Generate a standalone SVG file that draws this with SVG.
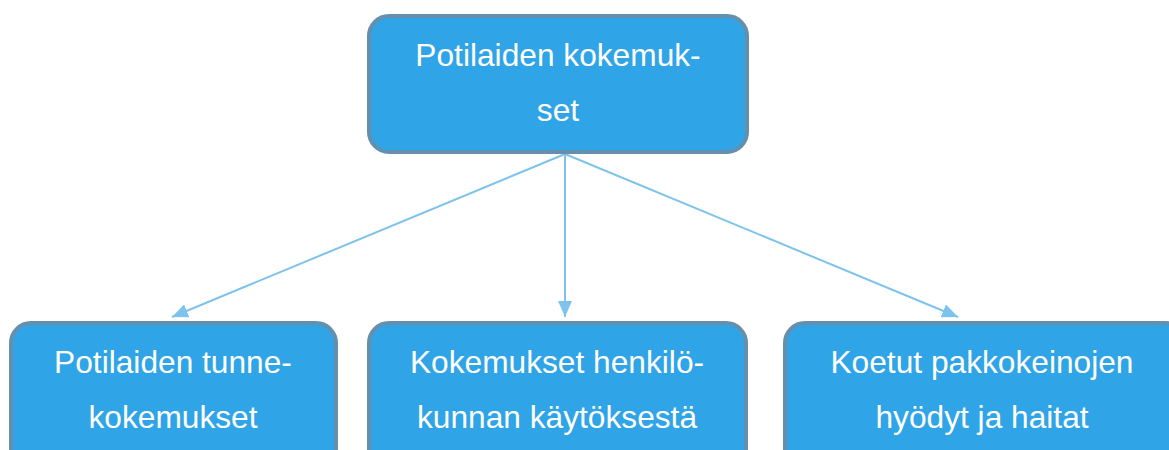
<svg xmlns="http://www.w3.org/2000/svg" width="1169" height="450" viewBox="0 0 1169 450">
<style>
.box{fill:#2fa4e6;stroke:#6590ad;stroke-width:4}
.t{font-family:"Liberation Sans",Arial,sans-serif;font-size:31.7px;fill:#ffffff;text-anchor:middle}
.c{stroke:#7ec3eb;stroke-width:2;fill:none}
</style>
<defs>
<marker id="ah" viewBox="0 0 16 14" refX="16" refY="7" markerWidth="16" markerHeight="14" markerUnits="userSpaceOnUse" orient="auto">
<path d="M0,0 L16,7 L0,14 z" fill="#7ec3eb"/>
</marker>
</defs>
<g id="connectors">
<line class="c" x1="565" y1="154" x2="172" y2="317" marker-end="url(#ah)"/>
<line class="c" x1="565" y1="154" x2="565" y2="317" marker-end="url(#ah)"/>
<line class="c" x1="565" y1="154" x2="958" y2="317" marker-end="url(#ah)"/>
</g>
<g id="top">
<rect class="box" x="369" y="16" width="378" height="136" rx="20"/>
<text class="t" x="558" y="66">Potilaiden kokemuk-</text>
<text class="t" x="558" y="121">set</text>
</g>
<g id="left">
<rect class="box" x="11" y="323" width="325" height="150" rx="20"/>
<text class="t" x="173" y="373">Potilaiden tunne-</text>
<text class="t" x="173" y="428">kokemukset</text>
</g>
<g id="middle">
<rect class="box" x="369" y="323" width="377" height="150" rx="20"/>
<text class="t" x="557" y="373">Kokemukset henkilö-</text>
<text class="t" x="557" y="428">kunnan käytöksestä</text>
</g>
<g id="right">
<rect class="box" x="785" y="323" width="400" height="150" rx="20"/>
<text class="t" x="982" y="373">Koetut pakkokeinojen</text>
<text class="t" x="982" y="428">hyödyt ja haitat</text>
</g>
</svg>
